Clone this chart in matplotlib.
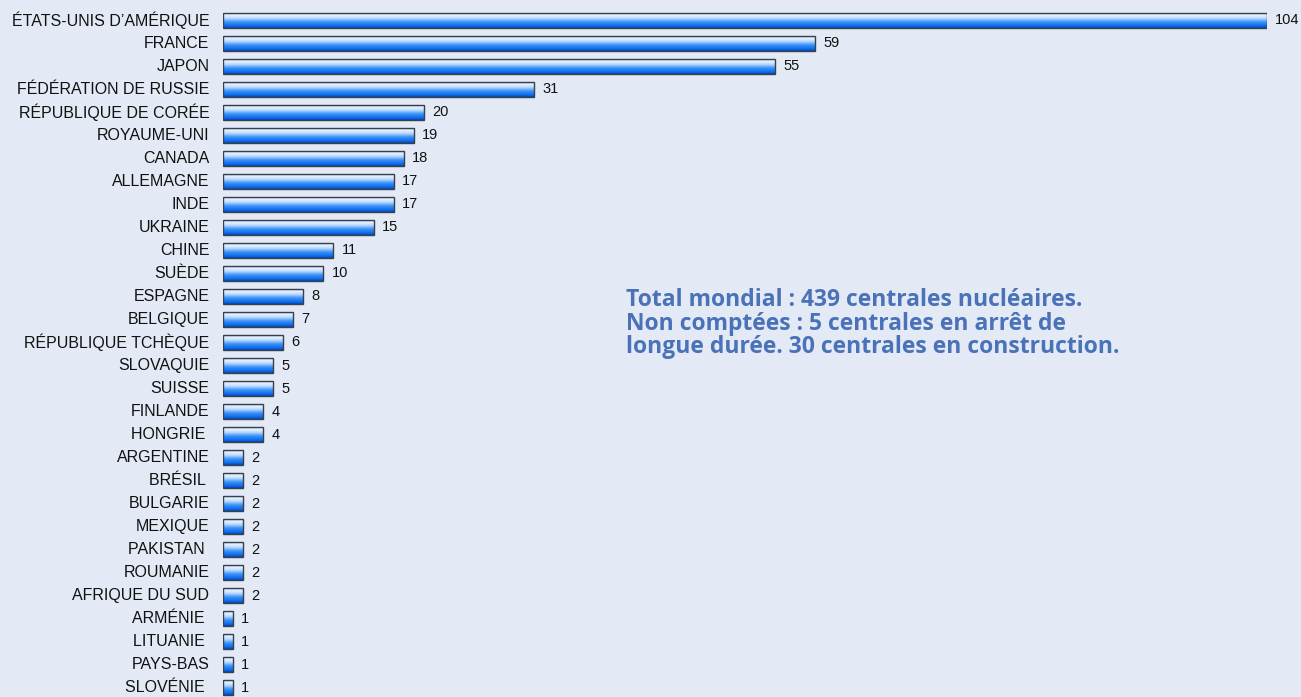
import numpy as np
import matplotlib.pyplot as plt
from matplotlib.colors import LinearSegmentedColormap
from matplotlib.patches import Rectangle

countries = ["ÉTATS-UNIS D’AMÉRIQUE", "FRANCE", "JAPON", "FÉDÉRATION DE RUSSIE",
             "RÉPUBLIQUE DE CORÉE", "ROYAUME-UNI", "CANADA", "ALLEMAGNE", "INDE",
             "UKRAINE", "CHINE", "SUÈDE", "ESPAGNE", "BELGIQUE", "RÉPUBLIQUE TCHÈQUE",
             "SLOVAQUIE", "SUISSE", "FINLANDE", "HONGRIE ", "ARGENTINE", "BRÉSIL ",
             "BULGARIE", "MEXIQUE", "PAKISTAN ", "ROUMANIE", "AFRIQUE DU SUD",
             "ARMÉNIE ", "LITUANIE ", "PAYS-BAS", "SLOVÉNIE "]
reactors = [104, 59, 55, 31, 20, 19, 18, 17, 17, 15, 11, 10, 8, 7, 6, 5, 5, 4, 4,
            2, 2, 2, 2, 2, 2, 2, 1, 1, 1, 1]
note_lines = ["Total mondial : 439 centrales nucléaires.",
              "Non comptées : 5 centrales en arrêt de",
              "longue durée. 30 centrales en construction."]

bg = "#e4eaf5"
W, H = 1301, 697
fig = plt.figure(figsize=(W / 100, H / 100), dpi=100, facecolor=bg)
ax = fig.add_axes([223 / W, 1 - 699.5 / H, 1044 / W, 691 / H])
ax.set_facecolor(bg)

# vertical gradient: light top -> bright blue -> dark bottom line
grad = LinearSegmentedColormap.from_list("bar", [
    (0.0, "#a8cdf7"), (0.15, "#eaf3ff"), (0.35, "#b8d8ff"),
    (0.6, "#3a92f8"), (0.88, "#0a68ea"), (1.0, "#0048b8")])
gimg = np.linspace(0, 1, 64).reshape(-1, 1)

h = 0.65
n = len(countries)
for i, (name, v) in enumerate(zip(countries, reactors)):
    ax.imshow(gimg, cmap=grad, aspect="auto", interpolation="bilinear",
              extent=[0, v, i + h / 2, i - h / 2], zorder=2)
    ax.add_patch(Rectangle((0, i - h / 2), v, h, fill=False,
                           edgecolor="#3a404a", linewidth=1.0, zorder=3))
    ax.text(v + 0.8, i, str(v), va="center", ha="left", fontsize=10.5,
            family="Liberation Sans", color="#111111")
    ax.text(-1.35, i, name, va="center", ha="right", fontsize=11.5,
            family="Liberation Sans", color="#111111")

ax.set_xlim(0, 104)
ax.set_ylim(n - 0.5, -0.5)
ax.axis("off")

for k, line in enumerate(note_lines):
    fig.text(626 / W, 1 - (300 + k * 23.5) / H, line, ha="left", va="center",
             fontsize=16.5, fontweight="bold", family="Open Sans",
             color="#4a72b8")

fig.savefig("out.png", dpi=100, facecolor=bg)
